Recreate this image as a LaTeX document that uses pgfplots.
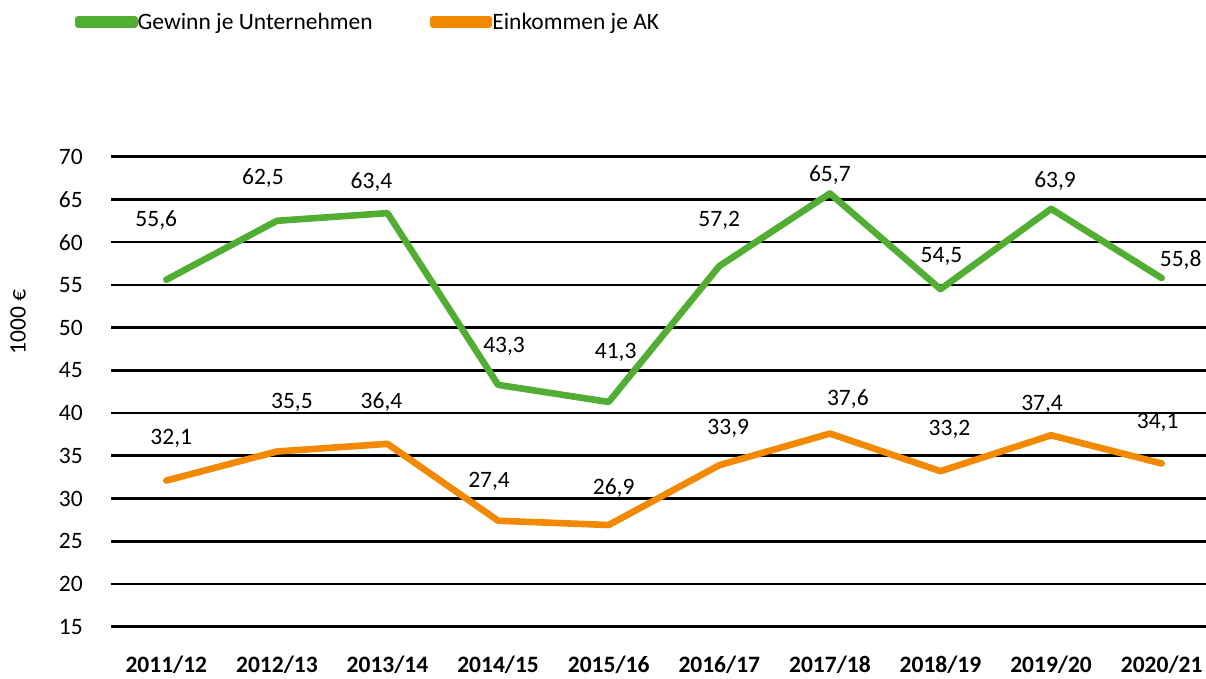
\documentclass[border=0pt]{standalone}
\usepackage{fontspec}
\setmainfont{Carlito}
\usepackage{pgfplots}
\pgfplotsset{compat=1.18}
\usepackage{pgfplotstable}
\definecolor{cgreen}{RGB}{82,174,50}
\definecolor{corange}{RGB}{242,137,0}

\pgfplotstableread{
x y dx dy lab
0 55.6 -10 60 55,6
1 62.5 -14 43 62,5
2 63.4 -16 31 63,4
3 43.3 6 38 43,3
4 41.3 7 50 41,3
5 57.2 0 46 57,2
6 65.7 0 18 65,7
7 54.5 1 33 54,5
8 63.9 4 28 63,9
9 55.8 19 18 55,8
}\gewinn

\pgfplotstableread{
x y dx dy lab
0 32.1 5 42 32,1
1 35.5 15 49 35,5
2 36.4 -6 42 36,4
3 27.4 -9 39 27,4
4 26.9 5 37 26,9
5 33.9 9 37 33,9
6 37.6 18 35 37,6
7 33.2 9 42 33,2
8 37.4 -9 31 37,4
9 34.1 -4 41 34,1
}\einkommen

\newcommand{\fs}{\fontsize{23.5}{28}\selectfont}

\begin{document}
\begin{tikzpicture}
\useasboundingbox (-111pt,-51.3pt) rectangle (1095pt,626.7pt);
\begin{axis}[
  at={(0pt,0pt)}, anchor=south west,
  scale only axis,
  width=1095pt, height=470pt,
  xmin=-0.5, xmax=9.4,
  ymin=15, ymax=70,
  ytick={15,20,...,70},
  xtick={0,...,9},
  xticklabels={2011/12,2012/13,2013/14,2014/15,2015/16,2016/17,2017/18,2018/19,2019/20,2020/21},
  axis line style={draw=none},
  tick style={draw=none},
  ymajorgrids,
  major grid style={black, line width=2.6pt},
  font=\fs,
  /pgf/number format/assume math mode=true,
  yticklabel style={anchor=east, inner sep=0pt, xshift=-28pt},
  xticklabel style={anchor=base, inner sep=0pt, yshift=-46pt, font=\fs\bfseries},
  ylabel={1000 €},
  ylabel style={at={(axis description cs:-0.0849,0.648)}, anchor=center, rotate=0},
  clip=false,
  legend columns=2,
  legend cell align=left,
  legend style={draw=none, fill=none, inner sep=0pt, outer sep=0pt,
    at={(axis description cs:-0.0329,1.2866)}, anchor=west,
    nodes={inner sep=0pt, anchor=west},
    /tikz/every even column/.append style={column sep=57pt}},
  legend image code/.code={\draw[#1, line cap=round] (3.3pt,0pt) -- (54.7pt,0pt);\path (0pt,-3pt) rectangle (56pt,3pt);},
]
\addplot[cgreen, line width=6.6pt, line cap=round, line join=round] table[x=x,y=y]{\gewinn};
\addlegendentry{Gewinn je Unternehmen}
\addplot[corange, line width=6.6pt, line cap=round, line join=round] table[x=x,y=y]{\einkommen};
\addlegendentry{Einkommen je AK}

\addplot[draw=none, forget plot, point meta=explicit symbolic,
  visualization depends on={\thisrow{dx} \as \ldx},
  visualization depends on={\thisrow{dy} \as \ldy},
  nodes near coords,
  every node near coord/.style={anchor=center, inner sep=0pt, xshift=\ldx pt, yshift=\ldy pt, font=\fs, text=black}]
  table[x=x,y=y,meta=lab]{\gewinn};
\addplot[draw=none, forget plot, point meta=explicit symbolic,
  visualization depends on={\thisrow{dx} \as \ldx},
  visualization depends on={\thisrow{dy} \as \ldy},
  nodes near coords,
  every node near coord/.style={anchor=center, inner sep=0pt, xshift=\ldx pt, yshift=\ldy pt, font=\fs, text=black}]
  table[x=x,y=y,meta=lab]{\einkommen};
\end{axis}
\end{tikzpicture}
\end{document}
